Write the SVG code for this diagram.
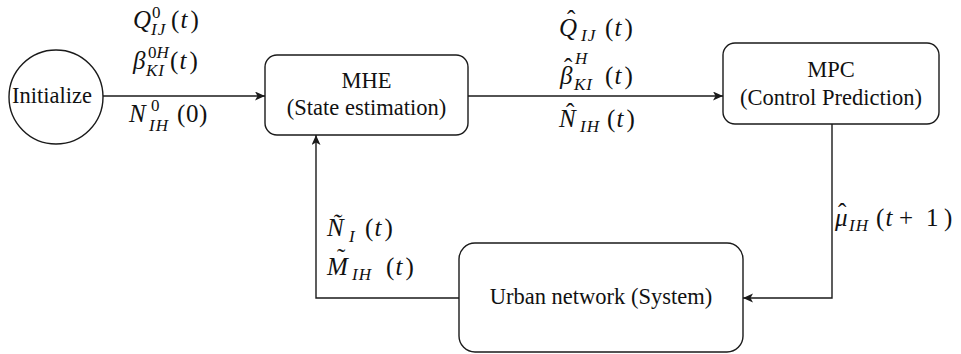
<svg xmlns="http://www.w3.org/2000/svg" width="961" height="354" viewBox="0 0 961 354">
  <style>
    .node { fill: #ffffff; stroke: #1a1a1a; stroke-width: 1.4; }
    .edge { fill: none; stroke: #1a1a1a; stroke-width: 1.4; }
    text { font-family: 'Liberation Serif', 'Times New Roman', serif; fill: #111; }
    .lbl { font-size: 22.5px; text-anchor: middle; }
    .m { font-size: 25px; }
    .i { font-style: italic; }
    .s { font-size: 17px; }
    .ls { letter-spacing: 1px; }
  </style>
  <defs>
    <marker id="arrow" markerUnits="userSpaceOnUse" markerWidth="12" markerHeight="10" refX="10" refY="4.5" orient="auto">
      <path d="M0,0 L10,4.5 L0,9 L2.5,4.5 Z" fill="#1a1a1a"/>
    </marker>
  </defs>

  <!-- nodes -->
  <g id="initialize">
    <circle class="node" cx="56" cy="97" r="47"/>
    <text class="lbl" x="52" y="103">Initialize</text>
  </g>
  <g id="mhe">
    <rect class="node" x="265" y="55" width="203" height="80" rx="12"/>
    <text class="lbl" x="366.5" y="88">MHE</text>
    <text class="lbl" x="366.5" y="115">(State estimation)</text>
  </g>
  <g id="mpc">
    <rect class="node" x="723" y="43" width="216" height="81" rx="12"/>
    <text class="lbl" x="831" y="77">MPC</text>
    <text class="lbl" x="831" y="105">(Control Prediction)</text>
  </g>
  <g id="urban">
    <rect class="node" x="459" y="243" width="284" height="109" rx="16"/>
    <text class="lbl" x="601" y="304">Urban network (System)</text>
  </g>

  <!-- connectors -->
  <g id="connectors">
    <path class="edge" d="M103,96 L265,96" marker-end="url(#arrow)"/>
    <path class="edge" d="M468,96 L723,96" marker-end="url(#arrow)"/>
    <path class="edge" d="M832,124 L832,298 L743,298" marker-end="url(#arrow)"/>
    <path class="edge" d="M459,298 L316,298 L316,135" marker-end="url(#arrow)"/>
  </g>

  <!-- edge labels: math set with positioned tspans, accents included -->
  <g id="labels-init">
    <text class="m"><tspan class="i" x="133" y="28">Q</tspan><tspan class="s" x="152" y="18">0</tspan><tspan class="s i ls" x="151" y="35">IJ</tspan><tspan x="171" y="28">(</tspan><tspan class="i" x="180.5" y="28">t</tspan><tspan x="190.5" y="28">)</tspan></text>
    <text class="m"><tspan class="i" x="133" y="69">β</tspan><tspan class="s" x="148" y="58">0</tspan><tspan class="s i">H</tspan><tspan class="s i ls" x="146" y="76">KI</tspan><tspan x="170" y="69">(</tspan><tspan class="i" x="179.5" y="69">t</tspan><tspan x="189.5" y="69">)</tspan></text>
    <text class="m"><tspan class="i" x="129" y="122">N</tspan><tspan class="s" x="151" y="111">0</tspan><tspan class="s i ls" x="149" y="131">IH</tspan><tspan x="177" y="122">(</tspan><tspan x="186" y="122">0</tspan><tspan x="199" y="122">)</tspan></text>
  </g>
  <g id="labels-estimate">
    <text class="m"><tspan x="567" y="28">ˆ</tspan><tspan class="i" x="559" y="36">Q</tspan><tspan class="s i ls" x="581" y="41">IJ</tspan><tspan x="605" y="36">(</tspan><tspan class="i" x="614.5" y="36">t</tspan><tspan x="624.5" y="36">)</tspan></text>
    <text class="m"><tspan x="564" y="76">ˆ</tspan><tspan class="i" x="560" y="84">β</tspan><tspan class="s i" x="575" y="64">H</tspan><tspan class="s i ls" x="574" y="90">KI</tspan><tspan x="605" y="84">(</tspan><tspan class="i" x="614.5" y="84">t</tspan><tspan x="624.5" y="84">)</tspan></text>
    <text class="m"><tspan x="566" y="121">ˆ</tspan><tspan class="i" x="559" y="127">N</tspan><tspan class="s i ls" x="580" y="132">IH</tspan><tspan x="607" y="127">(</tspan><tspan class="i" x="616.5" y="127">t</tspan><tspan x="626.5" y="127">)</tspan></text>
  </g>
  <g id="labels-feedback">
    <text class="m"><tspan class="i" x="327" y="236">Ñ</tspan><tspan class="s i" x="349" y="242">I</tspan><tspan x="365" y="236">(</tspan><tspan class="i" x="374.5" y="236">t</tspan><tspan x="384.5" y="236">)</tspan></text>
    <text class="m"><tspan x="337" y="266">˜</tspan><tspan class="i" x="327" y="275">M</tspan><tspan class="s i ls" x="352" y="280">IH</tspan><tspan x="386" y="275">(</tspan><tspan class="i" x="395.5" y="275">t</tspan><tspan x="405.5" y="275">)</tspan></text>
  </g>
  <g id="labels-control">
    <text class="m"><tspan x="838" y="221">ˆ</tspan><tspan class="i" x="835" y="226">μ</tspan><tspan class="s i ls" x="849" y="231">IH</tspan><tspan x="876" y="226">(</tspan><tspan class="i" x="885.5" y="226">t</tspan><tspan x="899" y="226">+</tspan><tspan x="926" y="226">1</tspan><tspan x="944" y="226">)</tspan></text>
  </g>
</svg>
